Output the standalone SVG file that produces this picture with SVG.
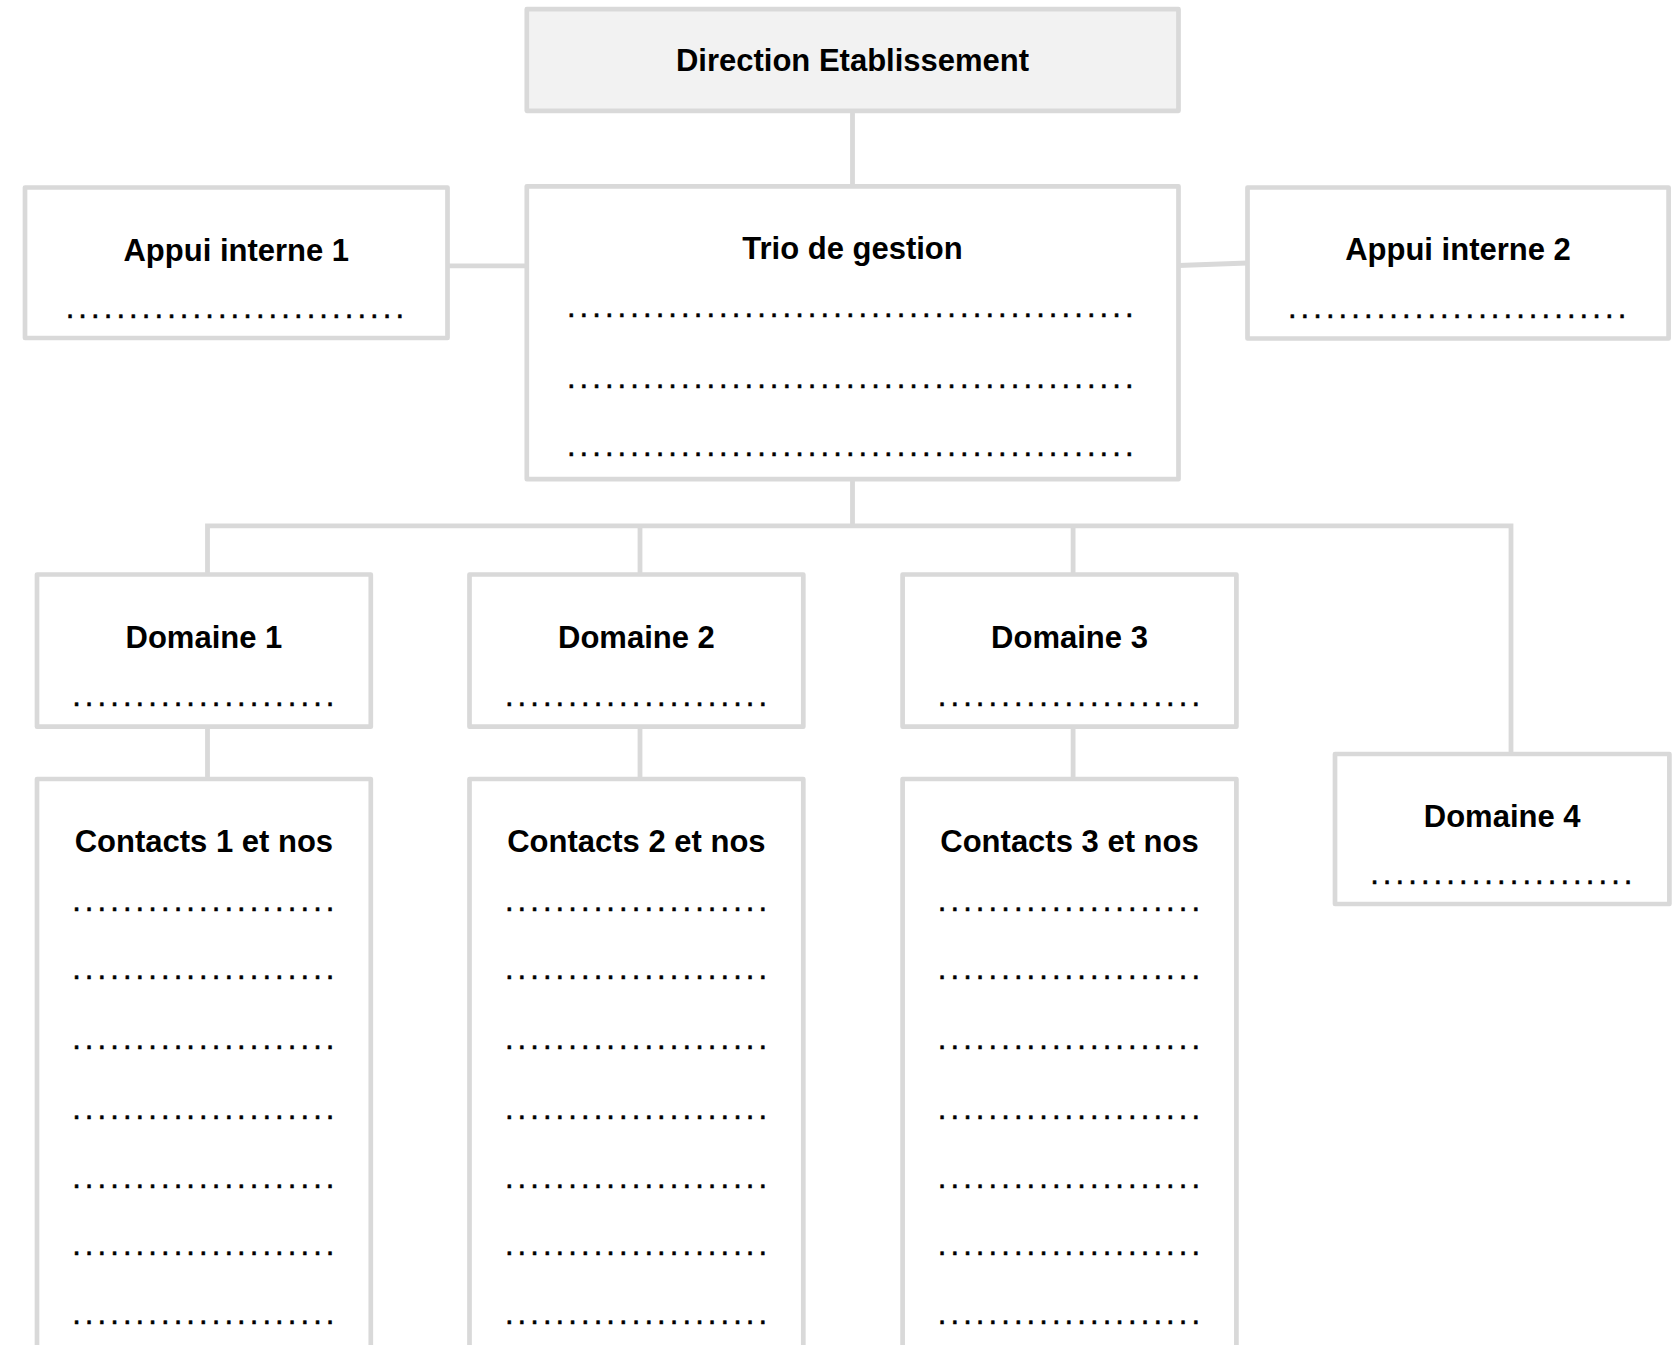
<svg xmlns="http://www.w3.org/2000/svg" width="1678" height="1345" viewBox="0 0 1678 1345">
<style>
.box{fill:#ffffff;stroke:#d9d9d9;stroke-width:4.7;stroke-linejoin:round}
.top{fill:#f2f2f2}
.con{fill:none;stroke:#d9d9d9;stroke-width:4.8;stroke-linejoin:miter}
.t{font-family:"Liberation Sans",Arial,sans-serif;font-weight:bold;font-size:31px;fill:#000;text-anchor:middle}
.d{font-family:"Liberation Sans",Arial,sans-serif;font-size:31px;fill:#000;stroke:#000;stroke-width:0.5;letter-spacing:4.07px}
</style>
<rect width="1678" height="1345" fill="#ffffff"/>
<g id="connectors">
<path class="con" d="M852.5 110.8V186.3"/>
<path class="con" d="M447.5 265.8H526.8"/>
<path class="con" d="M1178.5 265.5L1247.5 263"/>
<path class="con" d="M852.5 479.2V525.8"/>
<path class="con" d="M207.5 574.5V525.8H1511V754"/>
<path class="con" d="M640 525.8V574.5"/>
<path class="con" d="M1073.1 525.8V574.5"/>
<path class="con" d="M207.5 726.7V779"/>
<path class="con" d="M640 726.7V779"/>
<path class="con" d="M1073.1 726.7V779"/>
</g>
<g id="direction">
<rect class="box top" x="526.8" y="9.2" width="651.7" height="101.6"/>
<text class="t" x="852.5" y="71">Direction Etablissement</text>
</g>
<g id="trio">
<rect class="box" x="526.8" y="186.3" width="651.7" height="292.9"/>
<text class="t" x="852.5" y="259.3">Trio de gestion</text>
<text class="d" x="566.9" y="317.4">.............................................</text>
<text class="d" x="566.9" y="387.6">.............................................</text>
<text class="d" x="566.9" y="456.3">.............................................</text>
</g>
<g id="appui1">
<rect class="box" x="25" y="187.5" width="422.5" height="150.5"/>
<text class="t" x="236.3" y="260.5">Appui interne 1</text>
<text class="d" x="65.7" y="317.7">...........................</text>
</g>
<g id="appui2">
<rect class="box" x="1247.5" y="187.5" width="421.1" height="151"/>
<text class="t" x="1458" y="259.8">Appui interne 2</text>
<text class="d" x="1287.9" y="317.7">...........................</text>
</g>
<g id="domaine1">
<rect class="box" x="37" y="574.5" width="333.8" height="152.2"/>
<text class="t" x="203.9" y="647.7">Domaine 1</text>
<text class="d" x="72.2" y="705.6">.....................</text>
</g>
<g id="domaine2">
<rect class="box" x="469.5" y="574.5" width="333.8" height="152.2"/>
<text class="t" x="636.4" y="647.7">Domaine 2</text>
<text class="d" x="504.9" y="705.6">.....................</text>
</g>
<g id="domaine3">
<rect class="box" x="902.6" y="574.5" width="333.8" height="152.2"/>
<text class="t" x="1069.5" y="647.7">Domaine 3</text>
<text class="d" x="937.8" y="705.6">.....................</text>
</g>
<g id="domaine4">
<rect class="box" x="1335" y="754" width="334.4" height="150"/>
<text class="t" x="1502.2" y="826.7">Domaine 4</text>
<text class="d" x="1370.2" y="883.9">.....................</text>
</g>
<g id="contacts1">
<rect class="box" x="37" y="779" width="333.8" height="640"/>
<text class="t" x="203.9" y="852.3">Contacts 1 et nos</text>
<text class="d" x="72.2" y="910.6">.....................</text>
<text class="d" x="72.2" y="979.3">.....................</text>
<text class="d" x="72.2" y="1049.3">.....................</text>
<text class="d" x="72.2" y="1118.6">.....................</text>
<text class="d" x="72.2" y="1187.6">.....................</text>
<text class="d" x="72.2" y="1254.8">.....................</text>
<text class="d" x="72.2" y="1324.3">.....................</text>
</g>
<g id="contacts2">
<rect class="box" x="469.5" y="779" width="333.8" height="640"/>
<text class="t" x="636.4" y="852.3">Contacts 2 et nos</text>
<text class="d" x="504.9" y="910.6">.....................</text>
<text class="d" x="504.9" y="979.3">.....................</text>
<text class="d" x="504.9" y="1049.3">.....................</text>
<text class="d" x="504.9" y="1118.6">.....................</text>
<text class="d" x="504.9" y="1187.6">.....................</text>
<text class="d" x="504.9" y="1254.8">.....................</text>
<text class="d" x="504.9" y="1324.3">.....................</text>
</g>
<g id="contacts3">
<rect class="box" x="902.6" y="779" width="333.8" height="640"/>
<text class="t" x="1069.5" y="852.3">Contacts 3 et nos</text>
<text class="d" x="937.8" y="910.6">.....................</text>
<text class="d" x="937.8" y="979.3">.....................</text>
<text class="d" x="937.8" y="1049.3">.....................</text>
<text class="d" x="937.8" y="1118.6">.....................</text>
<text class="d" x="937.8" y="1187.6">.....................</text>
<text class="d" x="937.8" y="1254.8">.....................</text>
<text class="d" x="937.8" y="1324.3">.....................</text>
</g>
</svg>
